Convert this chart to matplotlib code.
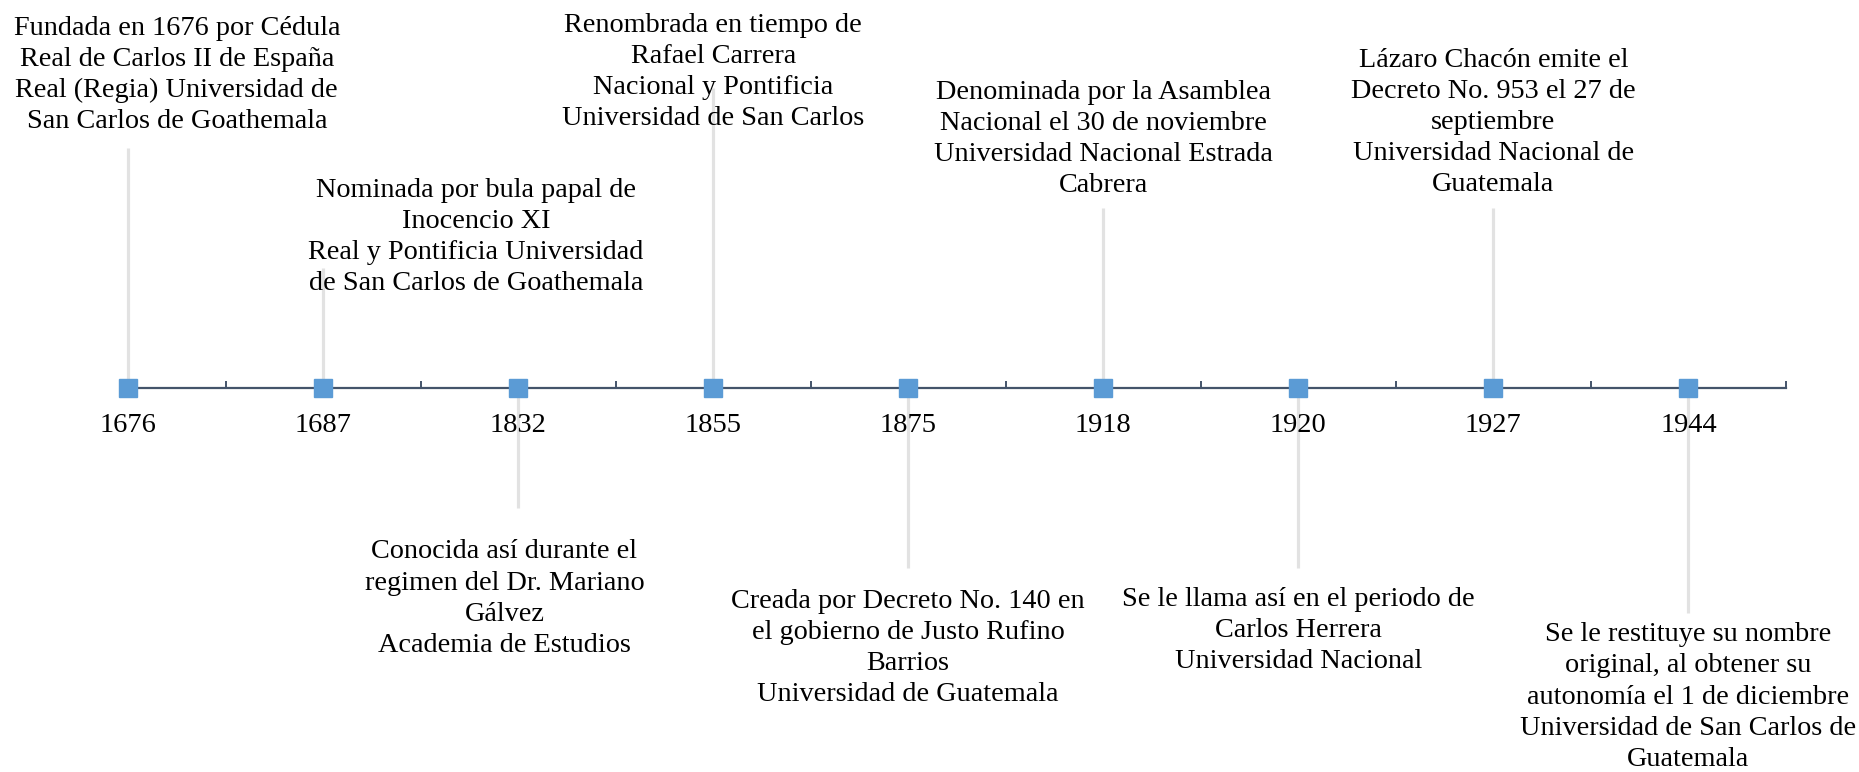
import matplotlib
matplotlib.use("Agg")
import matplotlib.pyplot as plt
import numpy as np

plt.rcParams['font.family'] = ['Liberation Serif', 'DejaVu Serif']

# ---- data ----
years = ['1676', '1687', '1832', '1855', '1875', '1918', '1920', '1927', '1944']
heights = [4, 2, -2, 5, -3, 3, -3, 3, -3.75]
descriptions = [
    "Fundada en 1676 por Cédula\nReal de Carlos II de España\nReal (Regia) Universidad de\nSan Carlos de Goathemala",
    "Nominada por bula papal de\nInocencio XI\nReal y Pontificia Universidad\nde San Carlos de Goathemala",
    "Conocida así durante el\nregimen del Dr. Mariano\nGálvez\nAcademia de Estudios",
    "Renombrada en tiempo de\nRafael Carrera\nNacional y Pontificia\nUniversidad de San Carlos",
    "Creada por Decreto No. 140 en\nel gobierno de Justo Rufino\nBarrios\nUniversidad de Guatemala",
    "Denominada por la Asamblea\nNacional el 30 de noviembre\nUniversidad Nacional Estrada\nCabrera",
    "Se le llama así en el periodo de\nCarlos Herrera\nUniversidad Nacional",
    "Lázaro Chacón emite el\nDecreto No. 953 el 27 de\nseptiembre\nUniversidad Nacional de\nGuatemala",
    "Se le restituye su nombre\noriginal, al obtener su\nautonomía el 1 de diciembre\nUniversidad de San Carlos de\nGuatemala",
]

# ---- layout (label placement) ----
label_y = [5.215, 2.52, -3.51, 5.27, -4.33, 4.15, -4.04, 4.43, -5.15]
label_dx = [0.25, 0.785, -0.07, 0, 0, 0, 0, 0, 0]

W, H = 1859, 772
fig = plt.figure(figsize=(W / 100, H / 100), dpi=100)
left_px, right_px, axis_px = 128, 1786, 388
ax = fig.add_axes([left_px / W, 0, (right_px - left_px) / W, 1])
unit = 60.0
ax.set_xlim(0, 8.5)
ax.set_ylim(-(H - axis_px) / unit, axis_px / unit)

x = np.arange(len(years))
ax.vlines(x, 0, heights, color='#e2e2e2', lw=2.3, zorder=1, clip_on=False)
ax.plot(x, np.zeros(len(x)), 's', ms=13.5, color='#5b9bd5', zorder=4, clip_on=False)

for xi, dx, ly, txt in zip(x, label_dx, label_y, descriptions):
    ax.text(xi + dx, ly, txt, ha='center', va='center', fontsize=20.3,
            color='black', linespacing=1.32, zorder=5)

for s in ['top', 'left', 'right']:
    ax.spines[s].set_visible(False)
ax.spines['bottom'].set_position(('data', 0))
ax.spines['bottom'].set_color('#44546a')
ax.spines['bottom'].set_linewidth(1.6)
ax.spines['bottom'].set_zorder(2)
ax.set_yticks([])
ax.set_xticks(np.arange(0.5, 9, 1.0))
ax.set_xticklabels([])
ax.set_xticks(x, minor=True)
ax.set_xticklabels(years, minor=True, fontsize=20.5)
ax.tick_params(axis='x', which='major', direction='in', length=5, width=1.4, color='#44546a')
ax.tick_params(axis='x', which='minor', length=0, pad=18)
ax.patch.set_visible(False)

fig.savefig('out.png', dpi=100)
